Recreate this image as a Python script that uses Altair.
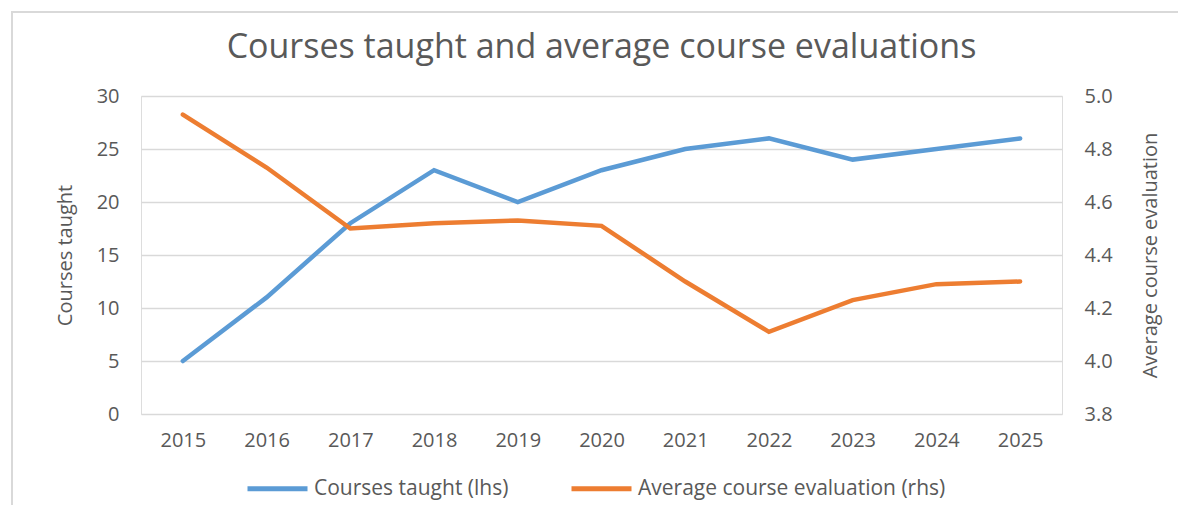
import altair as alt
import pandas as pd

years = [2015, 2016, 2017, 2018, 2019, 2020, 2021, 2022, 2023, 2024, 2025]
courses_taught = [5, 11, 18, 23, 20, 23, 25, 26, 24, 25, 26]
avg_evaluation = [4.93, 4.73, 4.50, 4.52, 4.53, 4.51, 4.30, 4.11, 4.23, 4.29, 4.30]

series_names = ["Courses taught (lhs)", "Average course evaluation (rhs)"]
series_colors = ["#5b9bd5", "#ed7d31"]
left_ticks = [0, 5, 10, 15, 20, 25, 30]
right_ticks = [3.8, 4.0, 4.2, 4.4, 4.6, 4.8, 5.0]

df = pd.DataFrame({"year": years, "courses": courses_taught, "evaluation": avg_evaluation})

FONT = "Open Sans"
GREY = "#595959"

x_enc = alt.X(
    "year:O",
    scale=alt.Scale(type="point", padding=0.5),
    axis=alt.Axis(
        title=None, labelAngle=0, domain=False, ticks=False, labelPadding=16,
        labelFontSize=20, labelColor=GREY, labelFont=FONT,
    ),
)

color_scale = alt.Scale(domain=series_names, range=series_colors)

blue = alt.Chart(df).mark_line(strokeWidth=4.5, strokeCap="round").encode(
    x=x_enc,
    y=alt.Y(
        "courses:Q",
        scale=alt.Scale(domain=[0, 30]),
        axis=alt.Axis(
            values=left_ticks, grid=True, gridColor="#d9d9d9", gridWidth=1.6,
            domain=False, ticks=False, labelPadding=22, labelFontSize=20,
            labelColor=GREY, labelFont=FONT, title="Courses taught",
            titleFontSize=20, titleFontWeight="normal", titleColor=GREY,
            titleFont=FONT, titlePadding=21,
        ),
    ),
    color=alt.Color(
        "s:N",
        scale=color_scale,
        legend=alt.Legend(
            title=None, orient="none", legendX=104, legendY=360, direction="horizontal",
            symbolType="stroke", symbolSize=3600, symbolStrokeWidth=5,
            labelFontSize=21, labelColor=GREY, labelFont=FONT, labelOffset=4,
            columnPadding=52, labelLimit=500,
        ),
    ),
).transform_calculate(s=f"'{series_names[0]}'")

orange = alt.Chart(df).mark_line(strokeWidth=4.5, strokeCap="round").encode(
    x=x_enc,
    y=alt.Y(
        "evaluation:Q",
        scale=alt.Scale(domain=[3.8, 5.0], zero=False),
        axis=alt.Axis(
            orient="right", values=right_ticks, format=".1f", grid=False,
            domain=False, ticks=False, labelPadding=22, labelFontSize=20,
            labelColor=GREY, labelFont=FONT, title="Average course evaluation",
            titleFontSize=20, titleFontWeight="normal", titleColor=GREY,
            titleFont=FONT, titleAngle=270, titlePadding=48,
        ),
    ),
    color=alt.Color("s:N", scale=color_scale),
).transform_calculate(s=f"'{series_names[1]}'")

frame = alt.Chart(df).mark_rect(fill=None, stroke="#d9d9d9", strokeWidth=2).encode(
    x=alt.value(-129), x2=alt.value(1200), y=alt.value(-84), y2=alt.value(600)
)

chart = (
    alt.layer(frame, blue, orange)
    .resolve_scale(y="independent")
    .properties(
        width=921,
        height=318,
        title=alt.TitleParams(
            "Courses taught and average course evaluations",
            fontSize=34, font=FONT, fontWeight="normal", color=GREY,
            anchor="middle", offset=-54, frame="group",
        ),
        autosize=alt.AutoSizeParams(type="none"),
        padding={"left": 133, "top": 88, "right": 116, "bottom": 91},
    )
    .configure_view(stroke=None)
    .configure(background="white")
)

chart.save("out.html", embed_options={"renderer": "svg", "actions": False})
